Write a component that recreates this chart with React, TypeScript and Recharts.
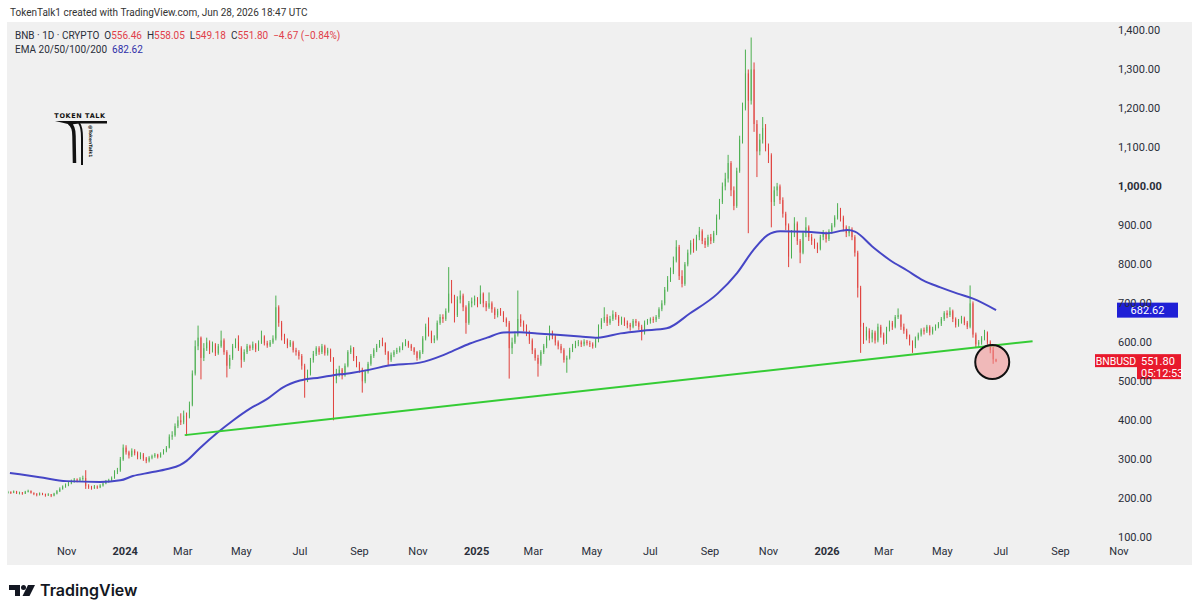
import React from "react";
import {
  ComposedChart,
  Bar,
  Line,
  XAxis,
  YAxis,
  ReferenceLine,
  ReferenceDot,
} from "recharts";

// BNB daily, sampled every 3 days starting 2023-09-01 (day 0)
const stepDays = 3;
const firstOpen = 214;

// [close, high, low] — open is the previous close
const candles2023 = [
  [216, 219, 212], [214, 218, 211], [218, 220, 213], [213, 219, 211], [215, 217, 210],
  [212, 216, 209], [217, 219, 211], [219, 222, 215], [214, 220, 212], [212, 215, 208],
  [209, 213, 205], [213, 215, 207], [211, 214, 208], [208, 212, 204], [210, 213, 206],
  [207, 211, 203], [212, 214, 205], [218, 221, 210], [224, 228, 216], [230, 233, 222],
  [235, 238, 227], [238, 242, 231], [244, 248, 236], [248, 252, 240], [246, 251, 241],
  [250, 254, 243], [252, 258, 245], [232, 272, 224], [228, 236, 224], [226, 232, 222],
  [230, 234, 224], [228, 233, 224], [233, 236, 226], [238, 241, 230], [244, 247, 236],
  [246, 250, 240], [252, 256, 244], [268, 272, 250], [272, 278, 262], [300, 306, 268],
  [330, 338, 296],
];

const candles2024 = [
  [318, 336, 312], [310, 322, 302], [322, 328, 306], [316, 326, 310], [306, 320, 300],
  [312, 318, 300], [302, 316, 296], [296, 306, 290], [304, 308, 292], [308, 312, 300],
  [312, 316, 304], [306, 314, 302], [314, 318, 304], [322, 326, 312], [330, 334, 318],
  [358, 364, 328], [362, 372, 350], [385, 392, 358], [400, 410, 380], [395, 418, 388],
  [412, 425, 390], [410, 420, 360], [440, 448, 405], [520, 528, 436], [590, 605, 515],
  [612, 643, 580], [560, 615, 505], [585, 598, 552], [600, 612, 578], [580, 605, 570],
  [595, 602, 574], [572, 598, 565], [590, 596, 568], [605, 630, 586], [575, 610, 568],
  [540, 580, 510], [560, 568, 532], [590, 596, 555], [600, 610, 585], [585, 618, 578],
  [555, 590, 535], [575, 582, 550], [590, 596, 570], [585, 594, 578], [595, 602, 580],
  [582, 598, 575], [600, 605, 578], [615, 630, 596], [598, 618, 592], [592, 604, 586],
  [600, 606, 588], [610, 618, 596], [690, 720, 605], [650, 695, 640], [615, 655, 605],
  [605, 622, 596], [592, 610, 585], [600, 606, 588], [580, 604, 574], [575, 586, 566],
  [565, 580, 556], [540, 570, 530], [505, 545, 458], [520, 530, 498], [555, 560, 515],
  [570, 578, 548], [585, 590, 565], [575, 590, 568], [590, 596, 570], [572, 594, 566],
  [580, 586, 566], [560, 584, 550], [505, 562, 400], [520, 532, 495], [530, 540, 512],
  [515, 534, 505], [540, 546, 512], [575, 580, 536], [585, 592, 570], [560, 588, 552],
  [545, 565, 536], [530, 550, 522], [500, 535, 471], [525, 530, 495], [545, 550, 520],
  [565, 570, 540], [580, 585, 560], [590, 596, 575], [600, 606, 586], [598, 612, 590],
  [575, 600, 568], [555, 578, 540], [568, 574, 550], [575, 580, 562], [580, 586, 570],
  [585, 590, 574], [595, 600, 580], [600, 608, 590], [592, 604, 586], [585, 596, 578],
  [575, 588, 568], [560, 578, 553], [575, 580, 556], [610, 616, 570], [640, 648, 605],
  [625, 664, 615], [605, 630, 598], [610, 618, 598], [650, 656, 605], [665, 672, 645],
  [660, 672, 650], [680, 687, 655], [725, 793, 676], [720, 760, 700], [670, 722, 651],
  [710, 718, 665], [720, 733, 700], [690, 725, 680], [650, 695, 622], [700, 706, 645],
  [705, 715, 690], [712, 720, 695],
];

const candles2025 = [
  [700, 716, 690], [725, 746, 698], [700, 728, 690], [690, 706, 680], [700, 728, 686],
  [685, 705, 676], [670, 690, 660], [680, 686, 664], [675, 688, 668], [660, 680, 652],
  [650, 664, 640], [585, 655, 507], [600, 612, 570], [620, 628, 596], [660, 733, 615],
  [650, 672, 640], [640, 656, 628], [625, 646, 616], [605, 630, 596], [580, 610, 570],
  [560, 585, 553], [545, 568, 512], [575, 580, 540], [590, 596, 570], [610, 616, 585],
  [625, 643, 605], [615, 630, 608], [600, 620, 592], [590, 605, 582], [580, 596, 572],
  [555, 585, 548], [560, 566, 522], [580, 586, 556], [590, 596, 575], [598, 604, 585],
  [600, 606, 590], [595, 605, 588], [602, 608, 590], [598, 606, 592], [595, 604, 588],
  [590, 600, 584], [605, 610, 586], [640, 646, 600], [655, 662, 634], [665, 690, 650],
  [650, 672, 642], [660, 668, 645], [672, 682, 655], [665, 678, 658], [650, 670, 642],
  [660, 666, 645], [650, 664, 642], [645, 656, 636], [640, 650, 630], [655, 660, 636],
  [650, 660, 642], [640, 654, 632], [625, 645, 605], [650, 656, 620], [655, 660, 645],
  [660, 664, 648], [658, 666, 650], [665, 670, 652], [685, 690, 660], [700, 708, 680],
  [735, 742, 695], [760, 770, 730], [780, 792, 755], [810, 820, 775], [845, 862, 805],
  [770, 850, 760], [750, 785, 741], [800, 806, 745], [830, 838, 795], [855, 862, 825],
  [840, 866, 830], [870, 876, 835], [885, 896, 862], [860, 890, 852], [850, 868, 842],
  [870, 876, 845], [860, 878, 852], [880, 886, 855], [920, 928, 875], [960, 968, 915],
  [1000, 1010, 955], [1020, 1035, 990], [1060, 1081, 1010], [990, 1065, 975], [950, 1000, 939],
  [1040, 1048, 945], [1120, 1130, 1035], [1200, 1215, 1110], [1290, 1351, 1195], [1220, 1300, 880],
  [1300, 1382, 1210], [1160, 1318, 1140], [1090, 1170, 1024], [1120, 1135, 1080], [1150, 1178, 1110],
  [1100, 1160, 1090], [1080, 1110, 1060], [960, 1085, 895], [990, 1000, 950], [1000, 1009, 975],
  [965, 1005, 955], [930, 972, 920], [900, 935, 888], [820, 905, 793], [880, 888, 815],
  [905, 921, 870], [860, 910, 850], [830, 865, 803], [880, 886, 826], [895, 921, 870],
  [870, 900, 860], [860, 878, 850], [850, 866, 840], [840, 856, 829], [870, 876, 836],
  [880, 888, 862], [865, 884, 856],
];

const candles2026 = [
  [885, 890, 860], [900, 906, 878], [920, 926, 895], [940, 957, 915], [920, 945, 910],
  [895, 925, 885], [880, 900, 870], [890, 898, 872], [870, 895, 862], [830, 875, 820],
  [740, 835, 715], [640, 745, 573], [615, 650, 596], [630, 640, 605], [610, 636, 598],
  [625, 632, 600], [605, 630, 597], [640, 648, 600], [620, 645, 612], [600, 625, 594],
  [635, 640, 596], [650, 656, 628], [640, 655, 632], [665, 670, 636], [670, 687, 660],
  [640, 672, 632], [630, 648, 622], [615, 635, 608], [600, 620, 592], [590, 605, 573],
  [610, 615, 585], [620, 625, 605], [632, 636, 615], [628, 638, 620], [640, 645, 624],
  [625, 644, 618], [635, 640, 620], [640, 646, 630], [648, 652, 636], [660, 665, 642],
  [675, 680, 655], [670, 682, 662], [680, 690, 665], [660, 684, 652], [645, 664, 638],
  [655, 660, 640], [662, 668, 648], [650, 666, 644], [640, 655, 634], [700, 746, 636],
  [620, 705, 612], [595, 625, 587], [600, 606, 588], [610, 616, 594], [625, 632, 605],
  [600, 628, 594], [580, 605, 572], [556.46, 588, 545], [551.8, 558.05, 549.18],
];

// EMA 200 readings (day, value)
const emaDays = [
  2, 33, 61, 96, 117, 130, 148, 166, 179, 186, 200, 218, 234, 252, 270, 286, 304, 325,
  346, 359, 377, 395, 429, 457, 481, 499, 516, 533, 551, 568, 596, 614, 638, 661, 686,
  710, 739, 759, 776, 791, 804, 832, 853, 874, 882, 901, 919, 936, 953, 971, 989, 1005, 1029,
];
const emaValues = [
  265, 254, 244, 242, 246, 257, 266, 275, 285, 296, 329, 368, 399, 430, 455, 484, 502, 510,
  518, 522, 530, 540, 548, 571, 597, 612, 625, 626, 623, 620, 615, 612, 623, 630, 636,
  674, 725, 777, 836, 875, 885, 884, 880, 888, 884, 844, 810, 785, 759, 741, 725, 712, 682.62,
];

const monthTicks = [61, 122, 182, 243, 304, 366, 427, 488, 547, 608, 669, 731, 792, 853, 912, 973, 1034, 1096, 1157];
const monthLabels = ["Nov", "2024", "Mar", "May", "Jul", "Sep", "Nov", "2025", "Mar", "May", "Jul", "Sep", "Nov", "2026", "Mar", "May", "Jul", "Sep", "Nov"];
const priceTicks = [100, 200, 300, 400, 500, 600, 700, 800, 900, 1000, 1100, 1200, 1300, 1400];

// support trendline and the highlighted last bars
const trendStart = { x: 184, y: 362 };
const trendEnd = { x: 1067, y: 603 };
const markDay = 1025;
const markPrice = 549.6;

const lastClose = 551.8;
const lastEma = 682.62;

const UP = "#4caf50";
const DOWN = "#e0403c";
const FONT = "Roboto, 'Liberation Sans', sans-serif";

const allCandles = [...candles2023, ...candles2024, ...candles2025, ...candles2026];
const candleRows = allCandles.map(([c, h, l], i) => {
  const o = i === 0 ? firstOpen : allCandles[i - 1][0];
  return { d: i * stepDays, o, h, l, c, range: [l, h] };
});
const emaRows = emaDays.map((d, i) => ({ d, ema: emaValues[i] }));

const Candle = (props: any) => {
  const { x, y, width, height, payload } = props;
  if (!payload || height == null) return null;
  const { o, h, l, c } = payload;
  const color = c >= o ? UP : DOWN;
  const span = h - l || 1;
  const top = y + ((h - Math.max(o, c)) / span) * height;
  const bot = y + ((h - Math.min(o, c)) / span) * height;
  const cx = x + width / 2;
  return (
    <g>
      <line x1={cx} x2={cx} y1={y} y2={y + height} stroke={color} strokeWidth={1} />
      <rect x={x} y={top} width={width} height={Math.max(1, bot - top)} fill={color} />
    </g>
  );
};

const TimeTick = ({ x, y, payload }: any) => {
  const label = monthLabels[monthTicks.indexOf(payload.value)];
  const isYear = /^\d{4}$/.test(label);
  return (
    <text x={x} y={y + 12} textAnchor="middle" fontSize={11} fontFamily={FONT}
      fontWeight={isYear ? 700 : 400} fill="#2a2e39">
      {label}
    </text>
  );
};

const PriceTick = ({ x, y, payload }: any) => {
  const v = payload.value;
  const txt = v.toLocaleString("en-US", { minimumFractionDigits: 2, maximumFractionDigits: 2 });
  return (
    <text x={x - 71} y={y + 4} textAnchor="start" fontSize={11} fontFamily={FONT}
      fontWeight={v === 1000 ? 700 : 400} fill="#2a2e39">
      {txt}
    </text>
  );
};

const EmaTag = ({ viewBox }: any) => {
  const y = viewBox.y;
  return (
    <g>
      <rect x={1109} y={y - 7.5} width={61} height={15} fill="#1f1fd6" />
      <text x={1139.5} y={y + 4} textAnchor="middle" fontSize={11} fontFamily={FONT} fill="#fff">
        {lastEma.toFixed(2)}
      </text>
    </g>
  );
};

const PriceTag = ({ viewBox }: any) => {
  const y = viewBox.y;
  return (
    <g>
      <rect x={1087} y={y - 7} width={42} height={13} fill="#e8192c" />
      <text x={1108} y={y + 3.5} textAnchor="middle" fontSize={10.5} fontFamily={FONT} fill="#fff">BNBUSD</text>
      <rect x={1129} y={y - 7} width={44} height={25} fill="#e8192c" />
      <text x={1133} y={y + 4} fontSize={11} fontFamily={FONT} fill="#fff">{lastClose.toFixed(2)}</text>
      <text x={1133} y={y + 16} fontSize={11} fontFamily={FONT} fill="#fff">05:12:53</text>
    </g>
  );
};

const Logo = () => (
  <svg width={60} height={60} style={{ position: "absolute", left: 50, top: 108 }}>
    <text x={30} y={9.5} textAnchor="middle" fontSize={6.5} fontWeight={700} fontFamily="'DejaVu Sans', sans-serif"
      letterSpacing={0.6} fill="#111">TOKEN TALK</text>
    <path d="M5 13 L57 13 L57 15.5 L30 15.5 Q 24 15.5 22 17 Q 14 15 5 13 Z" fill="#111" />
    <path d="M19 15 Q 24 18 24 28 L 24.5 55" stroke="#111" strokeWidth={3.5} fill="none" />
    <path d="M29 15 Q 32 19 32 30 L 32 57" stroke="#111" strokeWidth={2} fill="none" />
    <text x={39} y={17} fontSize={4.5} fontWeight={700} fontFamily="'DejaVu Sans', sans-serif" fill="#111"
      transform="rotate(90 39 17)">@TokenTalk1</text>
  </svg>
);

const TvLogo = () => (
  <div style={{ position: "absolute", left: 9, top: 580, display: "flex", alignItems: "center" }}>
    <svg width={27} height={16}>
      <path d="M0 3 L11 3 L11 14 L6 14 L6 8 L0 8 Z" fill="#131722" />
      <circle cx={14.5} cy={5.5} r={2.5} fill="#131722" />
      <path d="M19 3 L26 3 L20.5 14 L13.5 14 Z" fill="#131722" />
    </svg>
    <span style={{ fontFamily: "Inter, sans-serif", fontWeight: 600, fontSize: 16, color: "#131722", marginLeft: 4 }}>
      TradingView
    </span>
  </div>
);

export default function App() {
  return (
    <div style={{ position: "absolute", left: 0, top: 0, width: 1200, height: 615, background: "#fff", overflow: "hidden" }}>
      <div style={{ position: "absolute", left: 10, top: 7, fontFamily: FONT, fontSize: 10, color: "#333" }}>
        TokenTalk1 created with TradingView.com, Jun 28, 2026 18:47 UTC
      </div>
      <div style={{ position: "absolute", left: 7, top: 22, width: 1185, height: 543, background: "#f0f0f0" }} />
      <div style={{ position: "absolute", left: 8, top: 22 }}>
        <ComposedChart width={1183} height={543} data={candleRows} margin={{ top: 3, right: 0, bottom: 0, left: 0 }}>
          <XAxis
            dataKey="d"
            type="number"
            domain={[0, 1232]}
            allowDataOverflow
            ticks={monthTicks}
            interval={0}
            tick={<TimeTick />}
            tickLine={false}
            axisLine={false}
            tickSize={0}
            height={24}
          />
          <YAxis
            orientation="right"
            mirror
            type="number"
            domain={[90.4, 1414.1]}
            allowDataOverflow
            ticks={priceTicks}
            interval={0}
            tick={<PriceTick />}
            tickLine={false}
            axisLine={false}
            tickSize={0}
          />
          <Bar dataKey="range" barSize={2} shape={<Candle />} isAnimationActive={false} />
          <Line
            data={emaRows}
            dataKey="ema"
            type="monotone"
            stroke="#4646c6"
            strokeWidth={2}
            dot={false}
            activeDot={false}
            isAnimationActive={false}
          />
          <ReferenceLine segment={[trendStart, trendEnd]} stroke="#35cc35" strokeWidth={2} />
          <ReferenceDot x={markDay} y={markPrice} r={17} fill="rgba(240,140,140,0.55)" stroke="#111" strokeWidth={2} />
          <ReferenceLine y={lastEma} stroke="none" strokeOpacity={0} label={<EmaTag />} />
          <ReferenceLine y={lastClose} stroke="none" strokeOpacity={0} label={<PriceTag />} />
        </ComposedChart>
      </div>
      <div style={{ position: "absolute", left: 15, top: 29, fontFamily: FONT, fontSize: 10, lineHeight: "14px", color: "#2a2e39", whiteSpace: "pre" }}>
        <div>
          {"BNB · 1D · CRYPTO  O"}<span style={{ color: "#e0404a" }}>556.46</span>
          {"  H"}<span style={{ color: "#e0404a" }}>558.05</span>
          {"  L"}<span style={{ color: "#e0404a" }}>549.18</span>
          {"  C"}<span style={{ color: "#e0404a" }}>551.80</span>
          <span style={{ color: "#e0404a" }}>{"  \u22124.67 (\u22120.84%)"}</span>
        </div>
        <div>
          {"EMA 20/50/100/200  "}<span style={{ color: "#2f2fa8" }}>682.62</span>
        </div>
      </div>
      <Logo />
      <TvLogo />
    </div>
  );
}
